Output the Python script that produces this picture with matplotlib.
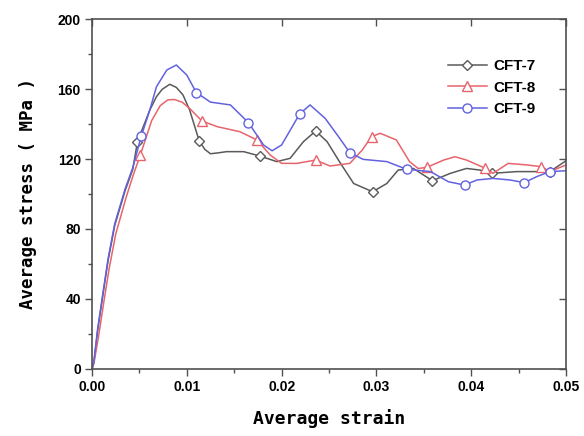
import numpy as np
import matplotlib
matplotlib.use("Agg")
import matplotlib.pyplot as plt
from matplotlib.ticker import MultipleLocator, FormatStrFormatter

# values
strain_7 = [0, 0.0002, 0.0006, 0.0012, 0.0017, 0.0024, 0.0035, 0.0043, 0.0048, 0.0061, 0.0068,
            0.0074, 0.0082, 0.0089, 0.0096, 0.0103, 0.0109, 0.0113, 0.0119, 0.0125, 0.0133, 0.0142,
            0.0160, 0.0177, 0.0195, 0.0209, 0.0223, 0.0236, 0.0248, 0.0261, 0.0276, 0.0296, 0.0311,
            0.0323, 0.0339, 0.0359, 0.0378, 0.0395, 0.0409, 0.0422, 0.0448, 0.0483, 0.0500]
stress_7 = [0, 4, 22, 44, 62, 82, 102, 114, 130, 148, 155.6,
            159.8, 162.7, 160.9, 156.6, 148, 137.5, 130.5, 125.5, 123, 123.5, 124.2,
            124.2, 121.7, 118.5, 120.4, 129.9, 136, 129.9, 118.5, 106, 101.3, 106,
            113.7, 114.6, 107.6, 111.8, 114.6, 113.7, 111.8, 112.8, 112.8, 119]
marks_7 = [8, 17, 23, 27, 31, 35, 39, 41]

strain_8 = [0, 0.0002, 0.0007, 0.0013, 0.0018, 0.0025, 0.0036, 0.0043, 0.0051, 0.0063, 0.0072,
            0.0080, 0.0087, 0.0095, 0.0103, 0.0116, 0.0132, 0.0156, 0.0174, 0.0188, 0.0200, 0.0216,
            0.0236, 0.0251, 0.0272, 0.0285, 0.0295, 0.0304, 0.0321, 0.0335, 0.0344, 0.0353, 0.0371,
            0.0383, 0.0395, 0.0415, 0.0423, 0.0439, 0.0459, 0.0474, 0.0483, 0.0500]
stress_8 = [0, 3, 19, 40, 57, 77, 98, 110, 122.3, 142, 150.5,
            153.8, 154, 152.5, 148.9, 141.7, 138.5, 135.6, 130.9, 122.3, 117.5, 117.5,
            119.4, 116, 117.5, 125.1, 132.8, 134.7, 130.9, 118.5, 114.6, 115.2, 119.4,
            121.3, 119.4, 114.7, 111.8, 117.5, 116.6, 115.6, 112.8, 116.6]
marks_8 = [8, 15, 18, 22, 26, 31, 35, 39]

strain_9 = [0, 0.0002, 0.0006, 0.0012, 0.0017, 0.0024, 0.0035, 0.0043, 0.0052, 0.0061, 0.0068,
            0.0079, 0.0089, 0.0100, 0.0110, 0.0125, 0.0146, 0.0165, 0.0181, 0.0190, 0.0200, 0.0219,
            0.0230, 0.0246, 0.0260, 0.0272, 0.0286, 0.0311, 0.0332, 0.0357, 0.0376, 0.0393, 0.0406,
            0.0423, 0.0441, 0.0456, 0.0469, 0.0483, 0.0500]
stress_9 = [0, 4, 23, 45, 63, 83, 103, 115, 133.1, 148, 161.3,
            170.9, 173.7, 168, 158, 152.5, 150.9, 140.8, 128, 124.7, 128, 145.7,
            150.9, 143.2, 132.8, 123.6, 119.8, 118.5, 114.1, 112.8, 107, 105.1, 108,
            108.9, 108, 106.5, 109.9, 112.8, 113.3]
marks_9 = [8, 14, 17, 21, 25, 28, 31, 35, 37]

labels = ["CFT-7", "CFT-8", "CFT-9"]

fig = plt.figure(figsize=(5.84, 4.36), dpi=100)
ax = fig.add_axes([0.1575, 0.1537, 0.8117, 0.8027])

spine_col = "#505050"
ax.plot(strain_7, stress_7, color="#5a5a5a", lw=1.1, marker="D", ms=5.5, mfc="white",
        mec="#5a5a5a", mew=1.0, markevery=marks_7, label=labels[0])
ax.plot(strain_8, stress_8, color="#e8646c", lw=1.1, marker="^", ms=7, mfc="white",
        mec="#e8646c", mew=1.0, markevery=marks_8, label=labels[1])
ax.plot(strain_9, stress_9, color="#6262e0", lw=1.1, marker="o", ms=6.5, mfc="white",
        mec="#6262e0", mew=1.0, markevery=marks_9, label=labels[2])

ax.set_xlim(0, 0.05)
ax.set_ylim(0, 200)
ax.xaxis.set_major_locator(MultipleLocator(0.01))
ax.xaxis.set_minor_locator(MultipleLocator(0.005))
ax.yaxis.set_major_locator(MultipleLocator(40))
ax.yaxis.set_minor_locator(MultipleLocator(20))
ax.xaxis.set_major_formatter(FormatStrFormatter("%.2f"))

for s in ax.spines.values():
    s.set_color(spine_col)
    s.set_linewidth(1.2)

ax.tick_params(which="both", direction="out", color=spine_col, width=1.0)
ax.tick_params(which="major", length=5)
ax.tick_params(which="minor", length=3)
ax.tick_params(labelsize=10, pad=3)
for lab in ax.get_xticklabels() + ax.get_yticklabels():
    lab.set_fontweight("bold")
    lab.set_family("Liberation Sans")

# inward major ticks on top and right
top = ax.secondary_xaxis("top")
top.set_xticks(np.arange(0, 0.051, 0.01))
top.tick_params(direction="in", length=5, color=spine_col, width=1.0, labeltop=False)
top.spines["top"].set_visible(False)
right = ax.secondary_yaxis("right")
right.set_yticks(np.arange(0, 201, 40))
right.tick_params(direction="in", length=5, color=spine_col, width=1.0, labelright=False)
right.spines["right"].set_visible(False)

ax.set_xlabel("Average strain", family="DejaVu Sans Mono", fontweight="bold",
              fontsize=13, labelpad=11)
ax.set_ylabel("Average stress ( MPa )", family="DejaVu Sans Mono", fontweight="bold",
              fontsize=12.5, labelpad=15)

leg = ax.legend(loc="upper right", bbox_to_anchor=(0.965, 0.925), frameon=False,
                handlelength=2.6, handletextpad=0.4, labelspacing=0.5,
                prop={"family": "Liberation Sans", "weight": "bold", "size": 11})

fig.savefig("out.png", dpi=100)
